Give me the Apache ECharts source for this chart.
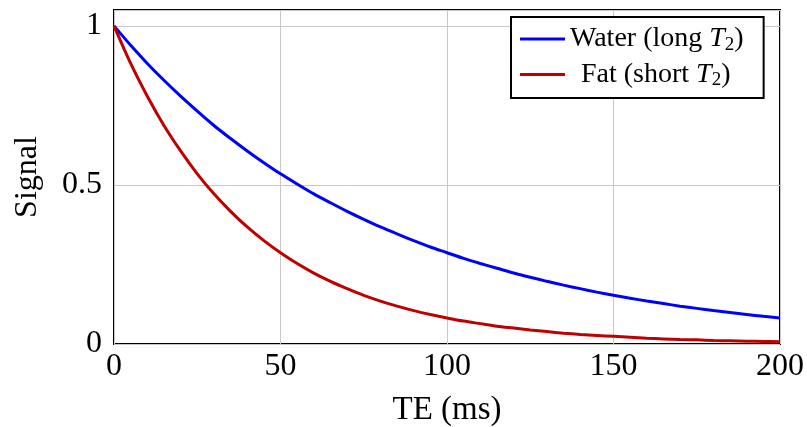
<!DOCTYPE html>
<html><head><meta charset="utf-8">
<script src="https://cdn.jsdelivr.net/npm/echarts@6/dist/echarts.min.js"></script>
<style>html,body{margin:0;padding:0;background:#fff}#c{width:807px;height:427px}</style>
</head><body><div id="c"></div>
<script>
const teValues = [0,5,10,15,20,25,30,35,40,45,50,55,60,65,70,75,80,85,90,95,100,105,110,115,120,125,130,135,140,145,150,155,160,165,170,175,180,185,190,195,200];
const waterSignal = [1,0.939,0.882,0.829,0.779,0.732,0.687,0.646,0.607,0.570,0.535,0.503,0.472,0.444,0.417,0.392,0.368,0.346,0.325,0.305,0.287,0.269,0.253,0.238,0.223,0.210,0.197,0.185,0.174,0.163,0.153,0.144,0.135,0.127,0.119,0.112,0.105,0.099,0.093,0.087,0.082];
const fatSignal = [1,0.882,0.779,0.687,0.607,0.535,0.472,0.417,0.368,0.325,0.287,0.253,0.223,0.197,0.174,0.153,0.135,0.119,0.105,0.093,0.082,0.072,0.064,0.056,0.050,0.044,0.039,0.034,0.030,0.027,0.024,0.021,0.018,0.016,0.014,0.013,0.011,0.010,0.009,0.008,0.007];
const xTicks = [0,50,100,150,200];
const yTicks = [0,0.5,1];
const seriesNames = ['Water (long T2)','Fat (short T2)'];

const font = '"Liberation Serif", "Times New Roman", serif';
const chart = echarts.init(document.getElementById('c'));
const pair = (xs, ys) => xs.map((x,i)=>[x, ys[i]]);
chart.setOption({
  animation:false,
  grid:{left:114,right:27,top:10,bottom:83,outerBoundsMode:'none',containLabel:false,
    show:true,borderColor:'#000',borderWidth:2,backgroundColor:'transparent'},
  xAxis:{type:'value',min:0,max:200,interval:50,
    name:'TE (ms)',nameLocation:'middle',nameGap:50,
    nameTextStyle:{fontFamily:font,fontSize:33,color:'#000'},
    axisLine:{show:false},axisTick:{show:false},
    axisLabel:{fontFamily:font,fontSize:32,color:'#000',margin:7,
      formatter:v=>xTicks.includes(v)?String(v):''},
    splitLine:{show:true,lineStyle:{color:'#c8c8c8',width:1}}},
  yAxis:{type:'value',min:0,max:1.05,interval:0.5,
    name:'Signal',nameLocation:'middle',nameGap:70,
    nameTextStyle:{fontFamily:font,fontSize:32,color:'#000'},
    axisLine:{show:false},axisTick:{show:false},
    axisLabel:{fontFamily:font,fontSize:32,color:'#000',margin:12,
      formatter:v=>yTicks.includes(v)?String(v):''},
    splitLine:{show:true,lineStyle:{color:'#c8c8c8',width:1}}},
  legend:{show:true,orient:'vertical',left:511,top:17,
    borderColor:'#000',borderWidth:2,padding:[8,20,8,9],itemGap:6,
    backgroundColor:'#fff',
    icon:'rect',itemWidth:45,itemHeight:3,align:'left',
    data:seriesNames,
    formatter:n=>{
      if(n===seriesNames[0]) return '{n|Water (long }{i|T}{s|2}{n|)}';
      return '{f|Fat (short }{i|T}{s|2}{n|)}';
    },
    textStyle:{fontFamily:font,fontSize:28,color:'#000',
      rich:{n:{fontFamily:font,fontSize:28,color:'#000'},
            f:{fontFamily:font,fontSize:28,color:'#000',padding:[0,0,0,11]},
            i:{fontFamily:font,fontSize:28,fontStyle:'italic',color:'#000'},
            s:{fontFamily:font,fontSize:19,color:'#000',padding:[12,0,0,0]}}}},
  series:[
    {name:seriesNames[0],type:'line',data:pair(teValues,waterSignal),smooth:0.3,showSymbol:false,
     lineStyle:{color:'#0000ff',width:3},itemStyle:{color:'#0000ff'}},
    {name:seriesNames[1],type:'line',data:pair(teValues,fatSignal),smooth:0.3,showSymbol:false,
     lineStyle:{color:'#bf0000',width:3},itemStyle:{color:'#bf0000'}}
  ]
});
</script></body></html>
